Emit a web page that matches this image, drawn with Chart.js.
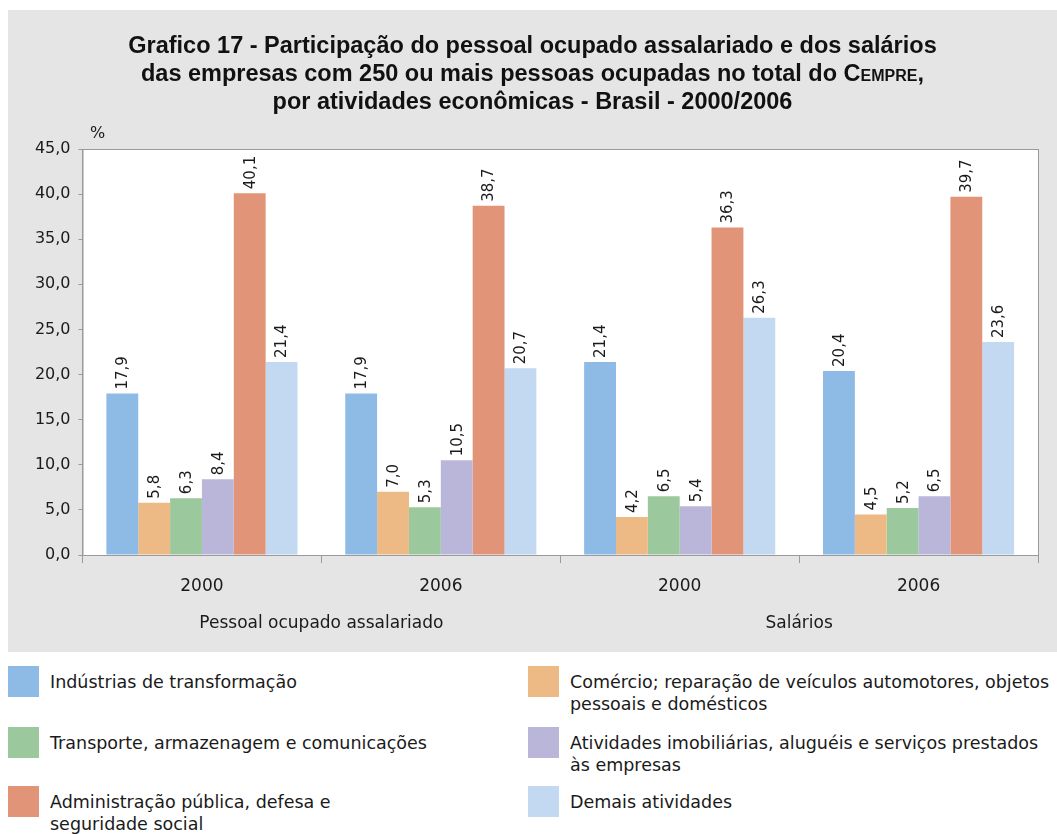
<!DOCTYPE html>
<html>
<head>
<meta charset="utf-8">
<script src="https://cdn.jsdelivr.net/npm/chart.js@4/dist/chart.umd.min.js"></script>
<style>
  body { margin: 0; background: #fff; font-family: "DejaVu Sans", sans-serif; color: #1a1a1a; overflow: hidden; }
  #panel { position: absolute; left: 8px; top: 10px; width: 1049px; height: 642px; background: #e4e5e4; }
  #title { position: absolute; left: 0; top: 21px; width: 1049px; text-align: center;
           font: bold 23.5px/28px "Liberation Sans", Arial, sans-serif; color: #111; }
  #title .sc { font-variant: small-caps; }
  #unit { position: absolute; left: 82px; top: 113px; font-size: 16px; }
  #chart { position: absolute; left: 0; top: 0; }
  .leg { position: absolute; font-size: 17.5px; line-height: 22px; }
  .leg .box { position: absolute; left: 0; top: 0; width: 31px; height: 31px; }
  .leg .txt { position: absolute; left: 42px; top: 5px; white-space: pre; }
</style>
</head>
<body>
<div id="panel">
  <canvas id="chart" width="1049" height="642"></canvas>
  <div id="title">Grafico 17 - Participação do pessoal ocupado assalariado e dos salários<br>das empresas com 250 ou mais pessoas ocupadas no total do <span class="sc">Cempre</span>,<br>por atividades econômicas - Brasil - 2000/2006</div>
  <div id="unit">%</div>
</div>
<div id="legend"></div>
<script>
// anos (categorias) e grupos
const years = ["2000", "2006", "2000", "2006"];
const groups = ["Pessoal ocupado assalariado", "Salários"];

// séries (%)
const industrias = [17.9, 17.9, 21.4, 20.4];
const comercio = [5.8, 7.0, 4.2, 4.5];
const transporte = [6.3, 5.3, 6.5, 5.2];
const imobiliarias = [8.4, 10.5, 5.4, 6.5];
const administracao = [40.1, 38.7, 36.3, 39.7];
const demais = [21.4, 20.7, 26.3, 23.6];

// nomes das séries (quebras de linha como na legenda original)
const seriesNames = [
  "Indústrias de transformação",
  "Comércio; reparação de veículos automotores, objetos\npessoais e domésticos",
  "Transporte, armazenagem e comunicações",
  "Atividades imobiliárias, aluguéis e serviços prestados\nàs empresas",
  "Administração pública, defesa e\nseguridade social",
  "Demais atividades"
];
const seriesData = [industrias, comercio, transporte, imobiliarias, administracao, demais];
const colors = ["#8ebbe5", "#edba86", "#9bc99d", "#bab6da", "#e19477", "#c3d9f1"];

const fmt = v => v.toFixed(1).replace(".", ",");
const TICK_FONT = { family: "'DejaVu Sans', sans-serif", size: 16 };
const LABEL_FONT = { family: "'DejaVu Sans', sans-serif", size: 17 };
const AXIS = "#9a9a9a";

const plotBox = {
  id: "plotBox",
  beforeDraw(chart) {
    const a = chart.chartArea, ctx = chart.ctx;
    ctx.save();
    ctx.fillStyle = "#fff";
    ctx.fillRect(a.left, a.top, a.right - a.left, a.bottom - a.top);
    ctx.strokeStyle = AXIS;
    ctx.lineWidth = 1;
    ctx.strokeRect(a.left + 0.5, a.top + 0.5, a.right - a.left, a.bottom - a.top);
    ctx.restore();
  }
};

const barLabels = {
  id: "barLabels",
  afterDatasetsDraw(chart) {
    const ctx = chart.ctx;
    ctx.save();
    ctx.font = "15px 'DejaVu Sans', sans-serif";
    ctx.fillStyle = "#1a1a1a";
    ctx.textAlign = "left";
    ctx.textBaseline = "middle";
    chart.data.datasets.forEach((ds, i) => {
      chart.getDatasetMeta(i).data.forEach((el, j) => {
        ctx.save();
        ctx.translate(el.x + 1, el.y - 4);
        ctx.rotate(-Math.PI / 2);
        ctx.fillText(fmt(ds.data[j]), 0, 0);
        ctx.restore();
      });
    });
    ctx.restore();
  }
};

new Chart(document.getElementById("chart"), {
  type: "bar",
  data: {
    labels: years,
    datasets: seriesData.map((d, i) => ({
      label: seriesNames[i].replace("\n", " "),
      data: d,
      backgroundColor: colors[i],
      borderWidth: 0,
      categoryPercentage: 0.8,
      barPercentage: 1.0
    }))
  },
  options: {
    responsive: false,
    animation: false,
    layout: { padding: { top: 139, right: 19, left: 0, bottom: 10 } },
    plugins: { legend: { display: false }, tooltip: { enabled: false } },
    scales: {
      y: {
        min: 0, max: 45,
        ticks: { stepSize: 5, callback: v => fmt(v), font: TICK_FONT, color: "#1a1a1a", padding: 8 },
        grid: { drawOnChartArea: false, tickLength: 4, color: AXIS },
        border: { color: AXIS },
        afterFit: s => { s.width = 74.5; }
      },
      x: {
        weight: 0,
        ticks: { font: LABEL_FONT, color: "#1a1a1a", padding: 13 },
        grid: { drawOnChartArea: false, tickLength: 8, color: AXIS, offset: true },
        border: { color: AXIS },
        afterFit: s => { s.height = 42; }
      },
      x2: {
        type: "category",
        position: "bottom",
        weight: 1,
        labels: groups,
        offset: true,
        ticks: { font: LABEL_FONT, color: "#1a1a1a", padding: 16 },
        grid: { display: false, drawTicks: false },
        border: { display: false },
        afterFit: s => { s.height = 45; }
      }
    }
  },
  plugins: [plotBox, barLabels]
});

// legenda em duas colunas
const legPos = [
  { x: 8, y: 666 }, { x: 528, y: 666 },
  { x: 8, y: 727 }, { x: 528, y: 727 },
  { x: 8, y: 786 }, { x: 528, y: 786 }
];
const leg = document.getElementById("legend");
seriesNames.forEach((name, i) => {
  const p = legPos[i];
  const d = document.createElement("div");
  d.className = "leg";
  d.style.left = p.x + "px";
  d.style.top = p.y + "px";
  const box = document.createElement("div");
  box.className = "box";
  box.style.background = colors[i];
  const txt = document.createElement("div");
  txt.className = "txt";
  txt.textContent = name;
  d.appendChild(box);
  d.appendChild(txt);
  leg.appendChild(d);
});
</script>
</body>
</html>
